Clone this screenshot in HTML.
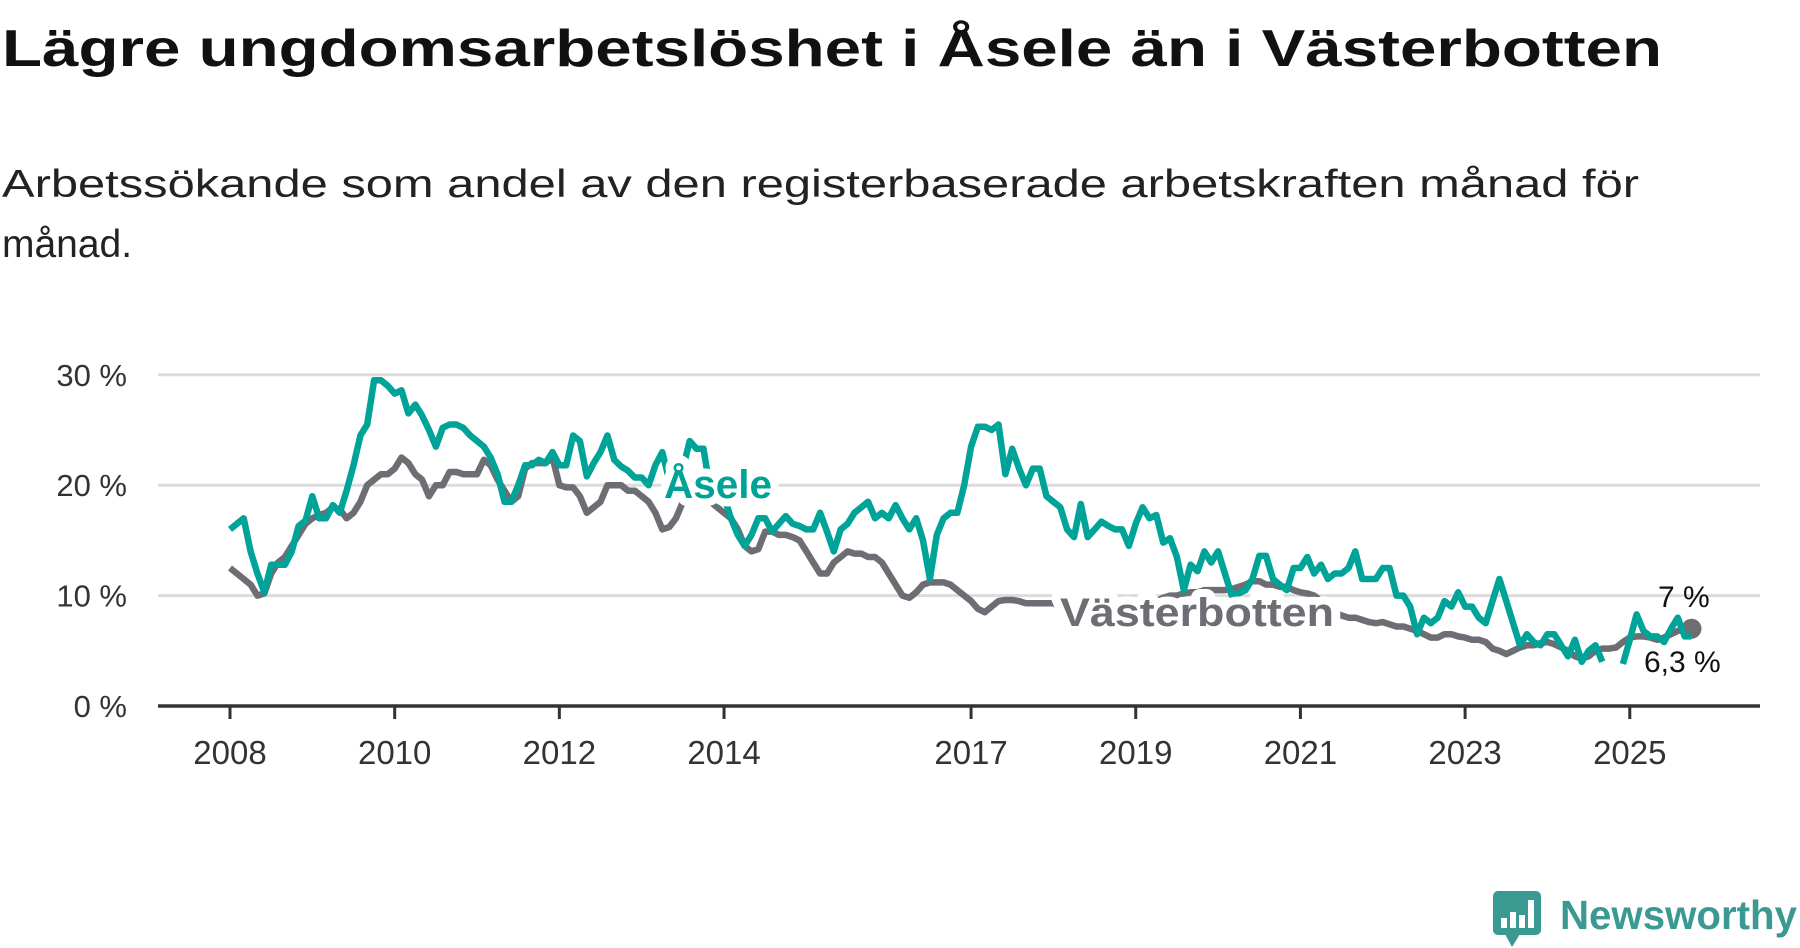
<!DOCTYPE html>
<html><head><meta charset="utf-8">
<style>
html,body{margin:0;padding:0;background:#fff;}
svg{display:block;font-family:"Liberation Sans",sans-serif;}
</style></head>
<body>
<svg id="chart" width="1800" height="948" viewBox="0 0 1800 948" xmlns="http://www.w3.org/2000/svg">
<text x="2" y="66" font-size="52" font-weight="bold" fill="#111" textLength="1660" lengthAdjust="spacingAndGlyphs">Lägre ungdomsarbetslöshet i Åsele än i Västerbotten</text>
<text x="2" y="197" font-size="39" fill="#222" textLength="1637" lengthAdjust="spacingAndGlyphs">Arbetssökande som andel av den registerbaserade arbetskraften månad för</text>
<text x="2" y="257" font-size="39" fill="#222">månad.</text>
<g id="grid"></g>
<g id="lines"></g>
<g id="labels"></g>
<g>
<rect x="1493" y="891" width="48" height="44" rx="5" fill="#3a9a92"/>
<polygon points="1505,934 1520,934 1512,947" fill="#3a9a92"/>
<rect x="1501" y="918" width="6" height="10" fill="#fff"/>
<rect x="1510" y="912" width="6" height="16" fill="#fff"/>
<rect x="1519" y="915" width="6" height="13" fill="#fff"/>
<rect x="1528" y="900" width="6" height="28" fill="#fff"/>
<text x="1560" y="929" font-size="41" font-weight="bold" fill="#3a9a92" textLength="237" lengthAdjust="spacingAndGlyphs">Newsworthy</text>
</g>
</svg>
<script>
const yTicks = [0, 10, 20, 30];
const yTickLabels = ["0 %", "10 %", "20 %", "30 %"];
const xTicks = [2008, 2010, 2012, 2014, 2017, 2019, 2021, 2023, 2025];
const startYear = 2008;
const aseleValues = [
16.0,16.5,17.0,14.0,12.0,10.3,12.8,12.8,12.8,14.0,16.3,16.8,
19.0,17.0,17.0,18.2,17.5,19.5,21.8,24.5,25.5,29.5,29.5,29.0,
28.3,28.6,26.5,27.3,26.3,25.0,23.5,25.2,25.5,25.5,25.2,24.5,
24.0,23.5,22.5,21.0,18.5,18.5,20.0,21.8,21.8,22.3,22.0,23.0,
21.8,21.8,24.5,24.0,20.8,22.0,23.0,24.5,22.3,21.7,21.3,20.7,
20.7,20.0,21.8,23.0,20.5,19.0,21.5,24.0,23.3,23.3,19.5,18.5,
19.0,17.0,15.5,14.5,15.5,17.0,17.0,15.8,16.5,17.2,16.5,16.3,
16.0,16.0,17.5,15.8,14.0,16.0,16.5,17.5,18.0,18.5,17.0,17.5,
17.0,18.2,17.0,16.0,17.0,15.0,11.5,15.5,17.0,17.5,17.5,20.0,
23.5,25.3,25.3,25.0,25.5,21.0,23.3,21.5,20.0,21.5,21.5,19.0,
18.5,18.0,16.0,15.3,18.3,15.3,16.0,16.7,16.3,16.0,16.0,14.5,
16.5,18.0,17.0,17.3,14.8,15.2,13.5,10.5,12.8,12.2,14.0,13.0,
14.0,12.0,10.0,10.2,10.5,11.5,13.6,13.6,11.5,11.0,10.5,12.5,
12.5,13.5,12.0,12.8,11.5,12.0,12.0,12.5,14.0,11.5,11.5,11.5,
12.5,12.5,10.0,10.0,9.0,6.5,8.0,7.5,8.0,9.5,9.0,10.3,
9.0,9.0,8.0,7.5,9.5,11.5,9.5,7.5,5.5,6.5,5.8,5.5,
6.5,6.5,5.5,4.5,6.0,4.0,5.0,5.5,4.0,null,null,3.8,
6.0,8.3,6.8,6.3,6.3,5.8,7.0,8.0,6.3,6.3];
const vbValues = [
12.5,12.0,11.5,11.0,10.0,10.2,12.0,13.0,13.5,14.5,15.5,16.5,
17.0,17.3,17.5,18.0,17.8,17.0,17.5,18.5,20.0,20.5,21.0,21.0,
21.5,22.5,22.0,21.0,20.5,19.0,20.0,20.0,21.2,21.2,21.0,21.0,
21.0,22.3,21.8,20.5,19.5,18.5,19.0,21.5,22.0,22.0,22.0,22.5,
20.0,19.8,19.8,19.0,17.5,18.0,18.5,20.0,20.0,20.0,19.5,19.5,
19.0,18.5,17.5,16.0,16.2,17.0,18.5,19.5,19.5,19.0,18.5,18.0,
17.5,17.0,16.0,14.5,14.0,14.2,15.8,15.8,15.5,15.5,15.3,15.0,
14.0,13.0,12.0,12.0,13.0,13.5,14.0,13.8,13.8,13.5,13.5,13.0,
12.0,11.0,10.0,9.8,10.3,11.0,11.2,11.2,11.2,11.0,10.5,10.0,
9.5,8.8,8.5,9.0,9.5,9.6,9.6,9.5,9.3,9.3,9.3,9.3,
9.3,9.0,8.8,8.5,8.5,8.3,8.3,8.5,8.5,8.8,9.0,9.2,
9.3,9.5,9.3,9.5,9.8,10.0,10.0,10.2,10.3,10.3,10.5,10.5,
10.5,10.5,10.6,10.8,11.0,11.3,11.3,11.0,11.0,10.8,10.8,10.5,
10.3,10.2,10.0,9.5,9.0,8.5,8.2,8.0,8.0,7.8,7.6,7.5,
7.6,7.4,7.2,7.2,7.0,6.8,6.5,6.2,6.2,6.5,6.5,6.3,
6.2,6.0,6.0,5.8,5.2,5.0,4.7,5.0,5.3,5.5,5.5,5.7,
5.8,5.6,5.3,5.0,4.5,4.3,4.5,5.0,5.2,5.2,5.3,5.8,
6.2,6.3,6.3,6.2,6.0,6.2,6.5,6.8,7.0,7.0];

const NS = "http://www.w3.org/2000/svg";
const X0 = 158, X1 = 1760;
function xScale(t){ return 230 + (t - 2008) * 82.34; }
function yScale(v){ return 706 - v * 11.04; }
function mk(tag, attrs, parent){ const e=document.createElementNS(NS,tag); for(const k in attrs) e.setAttribute(k, attrs[k]); parent.appendChild(e); return e; }

const grid = document.getElementById('grid');
yTicks.forEach((v,i)=>{
  if (v > 0) {
    const gl = mk('line',{x1:X0,x2:X1,y1:yScale(v),y2:yScale(v),stroke:'#dcdcdc','stroke-width':3},grid);
    
    
  }
  const tl = mk('text',{x:127,y:yScale(v)+11,'font-size':31,fill:'#333','text-anchor':'end'},grid);
  tl.textContent = yTickLabels[i];
  
  
});
const axis = mk('line',{x1:X0,x2:X1,y1:yScale(0),y2:yScale(0),stroke:'#333','stroke-width':3.5},grid);


xTicks.forEach(yr=>{
  const x = xScale(yr);
  const tk = mk('line',{x1:x,x2:x,y1:yScale(0),y2:yScale(0)+13,stroke:'#333','stroke-width':3},grid);
  
  
  const lb = mk('text',{x:x,y:764,'font-size':33,fill:'#333','text-anchor':'middle'},grid);
  lb.textContent = yr;
  
  
});

function pathFor(vals){
  let d='', pen=false;
  vals.forEach((v,i)=>{
    if (v===null){ pen=false; return; }
    const x = xScale(startYear + i/12), y = yScale(v);
    d += (pen?'L':'M') + x.toFixed(1) + ',' + y.toFixed(1);
    pen = true;
  });
  return d;
}
const lines = document.getElementById('lines');
const vb = mk('path',{d:pathFor(vbValues),fill:'none',stroke:'#6e6d74','stroke-width':6.5,'stroke-linejoin':'round'},lines);


const lastVb = vbValues.length-1;
const dot = mk('circle',{cx:xScale(startYear+lastVb/12),cy:yScale(vbValues[lastVb]),r:10,fill:'#6e6d74'},lines);


const as = mk('path',{d:pathFor(aseleValues),fill:'none',stroke:'#00a398','stroke-width':6.5,'stroke-linejoin':'round'},lines);



const labels = document.getElementById('labels');
function lab(txt, attrs){
  const t = mk('text', Object.assign({'paint-order':'stroke',stroke:'#fff','stroke-width':16,'stroke-linejoin':'round',lengthAdjust:'spacingAndGlyphs'}, attrs), labels);
  t.textContent = txt;
  return t;
}
const l1 = lab('Åsele',{x:664,y:498,'font-size':40,'font-weight':'bold',fill:'#00a398',textLength:108});


const l2 = lab('Västerbotten',{x:1060,y:626,'font-size':40,'font-weight':'bold',fill:'#6e6d74',textLength:274});


const l3 = mk('text',{x:1658,y:607,'font-size':30,fill:'#111'},labels);
l3.textContent = '7 %';


const l4 = mk('text',{x:1644,y:672,'font-size':30,fill:'#111'},labels);
l4.textContent = '6,3 %';


</script>
</body></html>
